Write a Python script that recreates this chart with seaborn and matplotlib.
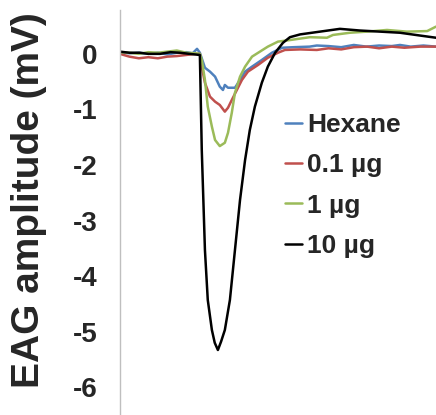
import numpy as np
import pandas as pd
import seaborn as sns
import matplotlib
matplotlib.use("Agg")
import matplotlib.pyplot as plt

# EAG traces, time in s, amplitude in mV
hex_t = [0, 0.3, 0.6, 0.9, 1.2, 1.5, 1.8, 2.1, 2.3, 2.44, 2.53, 2.69, 2.85, 3.01, 3.16,
         3.26, 3.32, 3.42, 3.64, 3.80, 3.96, 4.18, 4.49, 4.81, 5.13, 5.5, 6.0, 6.23, 6.6,
         7.0, 7.4, 7.8, 8.2, 8.6, 8.86, 9.2, 9.6, 10]
hex_y = [0.03, 0.01, 0.02, 0.0, 0.02, -0.01, 0.02, 0.03, 0.01, 0.09, 0.02, -0.25, -0.32,
         -0.41, -0.59, -0.65, -0.56, -0.61, -0.61, -0.47, -0.32, -0.23, -0.11, 0.02, 0.11,
         0.12, 0.13, 0.15, 0.14, 0.12, 0.16, 0.13, 0.15, 0.14, 0.16, 0.13, 0.15, 0.13]

low_t = [0, 0.3, 0.6, 0.9, 1.2, 1.5, 1.8, 2.1, 2.4, 2.53, 2.59, 2.69, 2.85, 3.01, 3.16,
         3.32, 3.42, 3.54, 3.70, 3.86, 4.05, 4.37, 4.68, 5.0, 5.22, 5.7, 6.23, 6.6, 7.0,
         7.4, 7.82, 8.2, 8.6, 9.0, 9.5, 10]
low_y = [0.0, -0.05, -0.08, -0.06, -0.08, -0.05, -0.04, -0.02, 0.0, 0.0, -0.23, -0.52,
         -0.77, -0.86, -0.92, -1.04, -0.97, -0.83, -0.65, -0.47, -0.32, -0.2, -0.07, 0.02,
         0.07, 0.08, 0.07, 0.1, 0.08, 0.12, 0.13, 0.1, 0.13, 0.11, 0.13, 0.13]

mid_t = [0, 0.3, 0.6, 0.9, 1.2, 1.5, 1.8, 2.1, 2.4, 2.53, 2.59, 2.69, 2.78, 2.91, 3.01,
         3.16, 3.32, 3.42, 3.54, 3.64, 3.80, 3.96, 4.18, 4.43, 4.68, 5.0, 5.4, 6.01, 6.55,
         6.74, 7.28, 7.82, 8.45, 9.08, 9.72, 10]
mid_y = [0.03, 0.02, 0.0, 0.03, 0.02, 0.04, 0.06, 0.02, 0.01, 0.0, -0.11, -0.47, -0.95,
         -1.31, -1.55, -1.66, -1.6, -1.42, -1.06, -0.7, -0.41, -0.23, -0.05, 0.04, 0.13,
         0.22, 0.25, 0.3, 0.29, 0.34, 0.38, 0.4, 0.43, 0.4, 0.41, 0.49]

high_t = [0, 0.3, 0.63, 0.9, 1.27, 1.6, 1.9, 2.2, 2.53, 2.59, 2.64, 2.69, 2.78, 2.91, 3.0,
          3.1, 3.2, 3.32, 3.48, 3.64, 3.80, 3.96, 4.11, 4.27, 4.49, 4.68, 4.91, 5.16, 5.38,
          5.7, 6.33, 6.96, 7.59, 8.23, 8.86, 9.49, 10]
high_y = [0.04, 0.02, 0.02, 0.0, 0.0, 0.03, 0.02, 0.0, -0.02, -1.73, -2.63, -3.53, -4.43,
          -4.97, -5.2, -5.33, -5.18, -4.97, -4.43, -3.53, -2.63, -1.91, -1.37, -0.95, -0.52,
          -0.23, 0.02, 0.2, 0.3, 0.35, 0.4, 0.45, 0.42, 0.4, 0.38, 0.33, 0.29]

labels = ["Hexane", "0.1 µg", "1 µg", "10 µg"]
colors = ["#4F81BD", "#C0504D", "#9BBB59", "#000000"]
yticks = [0, -1, -2, -3, -4, -5, -6]

frames = []
for lab, t, y in zip(labels, [hex_t, low_t, mid_t, high_t], [hex_y, low_y, mid_y, high_y]):
    frames.append(pd.DataFrame({"time": t, "amp": y, "dose": lab}))
df = pd.concat(frames, ignore_index=True)

sns.set_style("white")
plt.rcParams["font.family"] = ["Liberation Sans", "DejaVu Sans"]
plt.rcParams["font.weight"] = "bold"

fig = plt.figure(figsize=(4.36, 4.15), dpi=100)
ax = fig.add_axes([0.275, 0.0, 0.725, 0.976])

sns.lineplot(data=df, x="time", y="amp", hue="dose", palette=colors,
             hue_order=labels, estimator=None, linewidth=1.8, ax=ax, legend=False)

ax.set_xlim(0, 10)
ax.set_ylim(-6.5, 0.79)
ax.set_yticks(yticks)
ax.set_yticklabels([str(v) for v in yticks], fontsize=20, fontweight="bold")
ax.set_xticks([])
ax.set_xlabel("")
ax.set_ylabel("EAG amplitude (mV)", fontsize=28, fontweight="bold")
ax.yaxis.set_label_coords(-0.231, 0.53)

for s in ["top", "right", "bottom"]:
    ax.spines[s].set_visible(False)
ax.spines["left"].set_color("#bfbfbf")
ax.spines["left"].set_linewidth(1.0)
ax.tick_params(axis="y", direction="out", length=6, width=1, color="#bfbfbf", pad=10)

handles = [plt.Line2D([], [], color=c, lw=1.8) for c in colors]
ax.legend(handles, labels, loc="upper left", bbox_to_anchor=(285 / 436, 1 - 113 / 415),
          bbox_transform=fig.transFigure, frameon=False, borderpad=0, borderaxespad=0,
          handlelength=0.65, handletextpad=0.2, labelspacing=0.62,
          prop={"size": 19, "weight": "bold"})

fig.savefig("out.png", dpi=100)
